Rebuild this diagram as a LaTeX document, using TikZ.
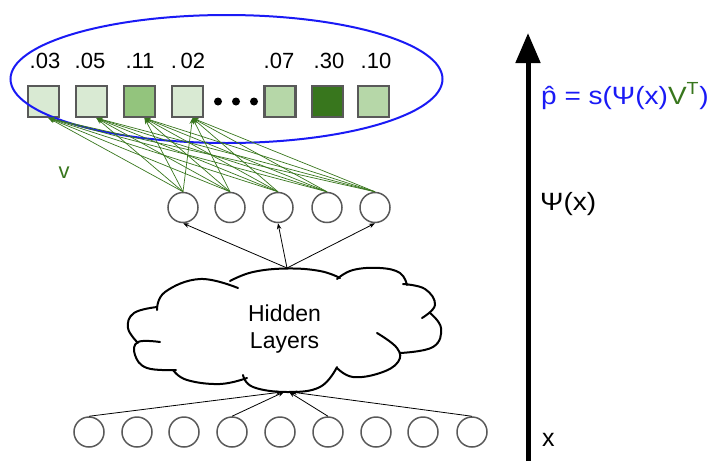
\documentclass[tikz,border=0pt]{standalone}
\usepackage{fontspec}
\usepackage{graphicx}
\setmainfont{Liberation Sans}
\usetikzlibrary{shapes.geometric,arrows.meta}
\definecolor{vgreen}{HTML}{38761D}
\definecolor{eblue}{HTML}{1A1AF5}
\definecolor{bord}{HTML}{595959}
\definecolor{gA}{HTML}{D9EAD3}
\definecolor{gB}{HTML}{93C47D}
\definecolor{gC}{HTML}{B6D7A8}
\begin{document}
\begin{tikzpicture}[x=1pt,y=-1pt,font=\fontsize{22}{27}\selectfont,
  sq/.style={draw=bord,line width=2.2pt,minimum size=31pt,inner sep=0pt},
  unit/.style={circle,draw=bord,line width=1.5pt,minimum size=30pt,inner sep=0pt},
  lab/.style={inner sep=0pt,anchor=base},
  biglab/.style={inner sep=0pt,anchor=base west,font=\fontsize{25}{30}\selectfont},
  dotnode/.style={circle,fill=black,minimum size=8pt,inner sep=0pt},
  puff/.style={line width=2pt,line cap=round},
  garr/.style={vgreen,line width=0.7pt,-{Stealth[length=6pt,width=4.5pt]}},
  karr/.style={black,line width=0.8pt,-{Stealth[length=6pt,width=4.5pt]}}]
\useasboundingbox (0,0) rectangle (712,461);

% output squares
\node[sq,fill=gA] (s1) at (43.5,101.5) {};
\node[sq,fill=gA] (s2) at (91.5,101.5) {};
\node[sq,fill=gB] (s3) at (139.5,101.5) {};
\node[sq,fill=gA] (s4) at (187.5,101.5) {};
\node[sq,fill=gC] (s5) at (280,101.5) {};
\node[sq,fill=vgreen] (s6) at (327.5,101.5) {};
\node[sq,fill=gC] (s7) at (373.5,101.5) {};
\node[dotnode] (d1) at (218,101.5) {};
\node[dotnode] (d2) at (236,101.5) {};
\node[dotnode] (d3) at (254,101.5) {};

% probabilities
\node[lab] (l1) at (45,68) {.03};
\node[lab] (l2) at (90,68) {.05};
\node[lab] (l3) at (140,68) {.11};
\node[lab] (l4) at (188,68) {.\,02};
\node[lab] (l5) at (279,68) {.07};
\node[lab] (l6) at (329,68) {.30};
\node[lab] (l7) at (376,68) {.10};

% blue ellipse
\node[ellipse,draw=eblue,line width=2pt,minimum width=432pt,minimum height=128pt,inner sep=0pt] (ov) at (226.5,79) {};

% hidden units
\foreach \i/\x in {1/183,2/230,3/278,4/327,5/375}
  \node[unit] (h\i) at (\x,207.5) {};

% green weights
\foreach \j in {1,...,5}
  \foreach \i in {1,...,4}
    \draw[garr] (h\j.north) -- ([xshift=5pt]s\i.south);
\node[text=vgreen,lab] (v) at (64,178) {v};

% cloud outline (puffs)
\draw[puff] plot[smooth,tension=0.7] coordinates {(138,343) (128,328) (134,313) (157,307)};
\draw[puff] plot[smooth,tension=0.7] coordinates {(157,310) (165,292) (200,279) (238,288)};
\draw[puff] plot[smooth,tension=0.7] coordinates {(230,281) (253,272) (287,268.5) (320,271) (340,278)};
\draw[puff] plot[smooth,tension=0.7] coordinates {(337,279) (353,270) (380,268) (400,273) (407,285)};
\draw[puff] plot[smooth,tension=0.7] coordinates {(403,284) (425,289) (435,305) (422,318)};
\draw[puff] plot[smooth,tension=0.7] coordinates {(430,313) (441,328) (433,347) (400,353)};
\draw[puff] plot[smooth,tension=0.7] coordinates {(377,333) (397,348) (398,362) (380,373) (353,377) (337,368)};
\draw[puff] plot[smooth,tension=0.7] coordinates {(337,367) (320,387) (287,392) (253,387) (243,375)};
\draw[puff] plot[smooth,tension=0.7] coordinates {(247,378) (220,384) (187,380) (173,370)};
\draw[puff] plot[smooth,tension=0.7] coordinates {(176,370) (147,368) (135,355) (138,342) (160,342)};
\node[align=center,inner sep=0pt,font=\fontsize{23}{27}\selectfont] (cl) at (284.5,329) {Hidden\\Layers};
\coordinate (ct) at (287,268);
\coordinate (cb) at (287,392);

\foreach \i in {1,3,5}
  \draw[karr] (ct) -- (h\i.south);

% inputs
\foreach \i/\x in {1/89,2/137,3/184,4/232,5/280,6/328,7/376,8/423,9/472}
  \node[unit] (in\i) at (\x,432) {};
\draw[karr] (in1.north) -- ([xshift=-5pt]cb);
\draw[karr] (in4.north) -- ([xshift=-3pt]cb);
\draw[karr] (in6.north) -- ([xshift=2pt]cb);
\draw[karr] (in9.north) -- ([xshift=4pt]cb);

% axis
\coordinate (axb) at (528,461);
\coordinate (axt) at (528,33);
\draw[line width=5pt,-{Triangle[length=30pt,width=24pt]}] (axb) -- (axt);

\node[biglab,text=eblue] (fp) at (541,104)
  {\scalebox{1.12}[1]{\^p = s(Ψ(x){\color{vgreen}V\textsuperscript{T}})}};
\node[biglab] (fpsi) at (540,210) {\scalebox{1.12}[1]{Ψ(x)}};
\node[biglab] (fx) at (542,446) {x};
\end{tikzpicture}
\end{document}
